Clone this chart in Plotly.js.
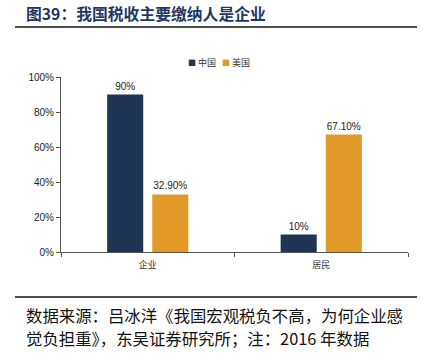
<!DOCTYPE html>
<html><head><meta charset="utf-8">
<script src="https://cdn.plot.ly/plotly-3.0.1.min.js"></script>
<style>html,body{margin:0;padding:0;background:#fff;}#chart{width:423px;height:355px;}</style>
</head><body><div id="chart"></div>
<script>
const categories = ['企业', '居民'];
const seriesNames = ['中国', '美国'];
const chinaValues = [0.90, 0.10];
const usValues = [0.329, 0.671];
const chinaLabels = ['90%', '10%'];
const usLabels = ['32.90%', '67.10%'];
const yTickVals = [0, 0.2, 0.4, 0.6, 0.8, 1.0];
const yTickText = ['0%', '20%', '40%', '60%', '80%', '100%'];
const colors = ['#203556', '#E19A27'];

const cjk = '"Noto Sans CJK SC", "Noto Sans", sans-serif';
const latin = '"Liberation Sans", Arial, sans-serif';

const traces = [
  {type:'bar', name:seriesNames[0], x:categories, y:chinaValues, text:chinaLabels,
   textposition:'outside', cliponaxis:false, marker:{color:colors[0]},
   textfont:{family:latin, size:10, color:'#222'}},
  {type:'bar', name:seriesNames[1], x:categories, y:usValues, text:usLabels,
   textposition:'outside', cliponaxis:false, marker:{color:colors[1]},
   textfont:{family:latin, size:10, color:'#222'}}
];

const H = 175, W = 347;
const layout = {
  width:423, height:355,
  margin:{l:61, r:15, t:77, b:103},
  paper_bgcolor:'#fff', plot_bgcolor:'#fff',
  barmode:'group', bargap:0.48, bargroupgap:0.2,
  showlegend:false,
  xaxis:{type:'category', showline:true, linecolor:'#555', linewidth:1,
    ticks:'outside', tickson:'boundaries', ticklen:4, tickcolor:'#555', ticklabelstandoff:4,
    tickfont:{family:cjk, size:9, color:'#333'}, showgrid:false, zeroline:false},
  yaxis:{range:[0,1], tickvals:yTickVals, ticktext:yTickText, showline:true,
    linecolor:'#555', linewidth:1, ticks:'outside', ticklen:4, tickcolor:'#555',
    tickfont:{family:latin, size:10, color:'#222'}, showgrid:false, zeroline:false},
  shapes:[
    {type:'line', xref:'paper', yref:'paper', x0:-46/W, x1:356/W, y0:(252-27)/H, y1:(252-27)/H,
     line:{color:'#111', width:1.5}},
    {type:'line', xref:'paper', yref:'paper', x0:-46/W, x1:356/W, y0:(252-297)/H, y1:(252-297)/H,
     line:{color:'#111', width:1.5}}
  ],
  annotations:[
    {xref:'paper', yref:'paper', x:-37/W, y:(252-14)/H, xanchor:'left', yanchor:'middle',
     showarrow:false, text:'<b>图39：我国税收主要缴纳人是企业</b>',
     font:{family:cjk, size:15.8, color:'#1F3864'}},
    {xref:'paper', yref:'paper', x:(186-61)/W, y:(252-63)/H, xanchor:'left', yanchor:'middle',
     showarrow:false,
     text:'<span style="color:'+colors[0]+';font-size:8px">■</span> '+seriesNames[0]+
          '   <span style="color:'+colors[1]+';font-size:8px">■</span> '+seriesNames[1],
     font:{family:cjk, size:9, color:'#333'}},
    {xref:'paper', yref:'paper', x:-37/W, y:(252-315)/H, xanchor:'left', yanchor:'middle',
     showarrow:false, text:'数据来源：吕冰洋《我国宏观税负不高，为何企业感',
     font:{family:cjk, size:16.4, color:'#111'}},
    {xref:'paper', yref:'paper', x:-37/W, y:(252-338)/H, xanchor:'left', yanchor:'middle',
     showarrow:false, text:'觉负担重》，东吴证券研究所；注：2016 年数据',
     font:{family:cjk, size:16.4, color:'#111'}}
  ]
};

Plotly.newPlot('chart', traces, layout, {displayModeBar:false, staticPlot:true});
</script></body></html>
